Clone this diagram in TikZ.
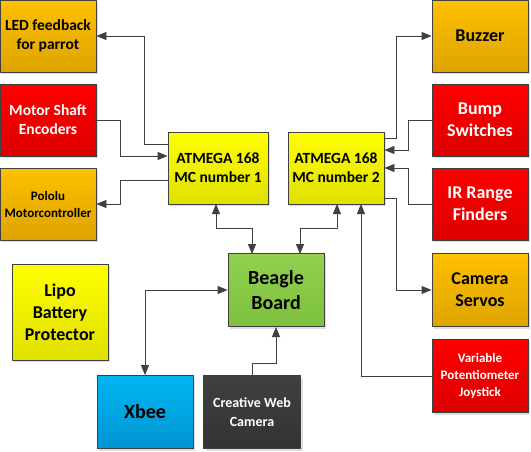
\documentclass[tikz,border=0pt]{standalone}
\usepackage{fontspec}
\setmainfont{Carlito}
\usepackage{tikz}
\usetikzlibrary{arrows.meta}
\usetikzlibrary{shadows}

\definecolor{ambertop}{HTML}{FFC000}
\definecolor{amberbot}{HTML}{DCA400}
\definecolor{redtop}{HTML}{FF0000}
\definecolor{redbot}{HTML}{DC0000}
\definecolor{yellowtop}{HTML}{FFFF00}
\definecolor{yellowbot}{HTML}{E0E000}
\definecolor{greentop}{HTML}{92D050}
\definecolor{greenbot}{HTML}{7DC03E}
\definecolor{bluetop}{HTML}{00B4F0}
\definecolor{bluebot}{HTML}{0096D2}
\definecolor{darktop}{HTML}{404040}
\definecolor{darkbot}{HTML}{333333}
\definecolor{wire}{HTML}{404040}

\begin{document}
\begin{tikzpicture}[x=1pt,y=-1pt,
	box/.style={draw=wire, line width=0.8pt, minimum width=96pt, minimum height=72pt, inner sep=1pt, align=center, drop shadow={shadow xshift=2pt, shadow yshift=-2pt, opacity=0.25}},
	txthuge/.style={font=\bfseries\fontsize{20}{25}\selectfont},
	txtbig/.style={font=\bfseries\fontsize{18}{22}\selectfont},
	txtmid/.style={font=\bfseries\fontsize{15.5}{19}\selectfont},
	txtsmall/.style={font=\bfseries\fontsize{13}{17}\selectfont},
	amberbox/.style={box, top color=ambertop, bottom color=amberbot},
	redbox/.style={box, top color=redtop, bottom color=redbot, text=white},
	yellowbox/.style={box, top color=yellowtop, bottom color=yellowbot},
	greenbox/.style={box, top color=greentop, bottom color=greenbot},
	bluebox/.style={box, top color=bluetop, bottom color=bluebot},
	darkbox/.style={box, top color=darktop, bottom color=darkbot, text=white},
	link/.style={draw=wire, line width=0.8pt, -{Triangle[length=10pt,width=8pt]}},
	twolink/.style={link, {Triangle[length=10pt,width=8pt]}-{Triangle[length=10pt,width=8pt]}}]
	
	\useasboundingbox (0,0) rectangle (531,451);
	
	% left column
	\node[amberbox, txtmid] (led) at (48,36) {LED feedback\\ for parrot};
	\node[redbox, txtmid] (shaft) at (48,120) {Motor Shaft\\ Encoders};
	\node[amberbox, txtsmall] (pololu) at (48,204) {Pololu\\ Motorcontroller};
	\node[yellowbox, txtbig, minimum height=96pt] (lipo) at (60,312) {Lipo\\ Battery\\ Protector};
	
	% controllers
	\node[yellowbox, txtmid, minimum width=100pt] (mc1) at (218,168) {ATMEGA 168\\ MC number 1};
	\node[yellowbox, txtmid] (mc2) at (336,168) {ATMEGA 168\\ MC number 2};
	
	% right column
	\node[amberbox, txtbig] (buzzer) at (480,36) {Buzzer};
	\node[redbox, txtbig] (bump) at (480,120) {Bump\\ Switches};
	\node[redbox, txtbig] (ir) at (480,204) {IR Range\\ Finders};
	\node[amberbox, txtbig, minimum height=73pt] (servo) at (480,290) {Camera\\ Servos};
	\node[redbox, txtsmall, minimum height=73pt] (joy) at (480,376) {Variable\\ Potentiometer\\ Joystick};
	
	% bottom
	\node[greenbox, txthuge, minimum height=73pt] (beagle) at (276,290) {Beagle\\ Board};
	\node[bluebox, txthuge, minimum height=73pt] (xbee) at (145,412) {Xbee};
	\node[darkbox, font=\bfseries\fontsize{14}{19}\selectfont, minimum width=97pt, minimum height=73pt] (cam) at (252,412) {Creative Web\\ Camera};
	
	% wires of MC 1
	\draw[link] (mc1.west |- 0,144) -| (144,36) -- (led.east |- 0,36);
	\draw[link] (shaft.east) -| (120,156) -- (mc1.west |- 0,156);
	\draw[link] (mc1.west |- 0,180) -| (120,204) -- (pololu.east);
	\draw[twolink] (216,204) -- (216,228) -| (252,254);
	
	% wires of MC 2
	\draw[link] (mc2.east |- 0,138) -| (396,36) -- (buzzer.west);
	\draw[link] (bump.west) -| (408,150) -- (mc2.east |- 0,150);
	\draw[link] (ir.west) -| (408,168) -- (mc2.east);
	\draw[link] (mc2.east |- 0,198) -| (396,290) -- (servo.west);
	\draw[twolink] (337,204) -- (337,228) -| (300,254);
	\draw[link] (joy.west) -| (361,204);
	
	% wires of Beagle Board
	\draw[twolink] (beagle.west) -| (xbee.north);
	\draw[link] (cam.north) -- (252,363) -| (276,327);
\end{tikzpicture}
\end{document}
